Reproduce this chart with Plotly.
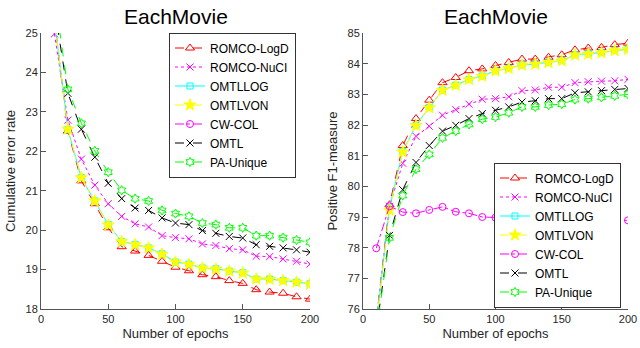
import plotly.graph_objects as go

epochs = [10, 20, 30, 40, 50, 60, 70, 80, 90, 100, 110, 120, 130, 140, 150, 160, 170, 180, 190, 200]

# Left panel: cumulative error rate
err_romco_logd = [25.35, 22.51, 21.25, 20.67, 20.06, 19.58, 19.47, 19.36, 19.21, 19.06, 18.97, 18.87, 18.82, 18.72, 18.65, 18.49, 18.43, 18.40, 18.31, 18.25]
err_romco_nuci = [24.98, 22.79, 21.80, 21.14, 20.67, 20.35, 20.16, 20.08, 19.86, 19.81, 19.78, 19.65, 19.61, 19.53, 19.50, 19.34, 19.33, 19.27, 19.21, 19.14]
err_omtllog = [25.34, 22.55, 21.33, 20.74, 20.14, 19.71, 19.64, 19.55, 19.40, 19.19, 19.14, 19.04, 19.02, 18.96, 18.92, 18.76, 18.76, 18.72, 18.68, 18.64]
err_omtlvon = [25.33, 22.56, 21.33, 20.74, 20.13, 19.71, 19.63, 19.55, 19.39, 19.19, 19.13, 19.04, 19.01, 18.96, 18.91, 18.76, 18.75, 18.72, 18.68, 18.63]
err_cw_col = [29.8, 29.2, 28.9, 28.7, 28.6, 28.5, 28.4, 28.4, 28.3, 28.3, 28.2, 28.2, 28.2, 28.1, 28.1, 28.1, 28.0, 28.0, 28.0, 28.0]
err_omtl = [25.63, 23.47, 22.56, 21.85, 21.19, 20.80, 20.56, 20.50, 20.31, 20.18, 20.14, 19.99, 19.92, 19.84, 19.80, 19.63, 19.59, 19.55, 19.50, 19.44]
err_pa_unique = [25.99, 23.57, 22.71, 22.01, 21.47, 21.01, 20.80, 20.74, 20.50, 20.42, 20.35, 20.18, 20.14, 20.06, 20.06, 19.86, 19.86, 19.81, 19.75, 19.69]

# Right panel: positive F1-measure
f1_romco_logd = [75.6, 79.40, 81.33, 82.21, 82.81, 83.38, 83.55, 83.77, 83.83, 83.94, 84.04, 84.15, 84.15, 84.21, 84.29, 84.45, 84.51, 84.53, 84.62, 84.67]
f1_romco_nuci = [75.6, 79.35, 80.75, 81.63, 81.96, 82.32, 82.50, 82.68, 82.84, 82.86, 82.92, 83.12, 83.14, 83.23, 83.23, 83.38, 83.41, 83.43, 83.44, 83.49]
f1_omtllog = [75.5, 79.30, 81.14, 81.99, 82.57, 83.14, 83.30, 83.49, 83.60, 83.77, 83.85, 83.96, 83.99, 84.04, 84.10, 84.29, 84.32, 84.36, 84.43, 84.47]
f1_omtlvon = [75.5, 79.22, 81.12, 81.98, 82.56, 83.13, 83.29, 83.48, 83.59, 83.76, 83.84, 83.95, 83.98, 84.03, 84.09, 84.28, 84.31, 84.35, 84.42, 84.46]
f1_cw_col = [77.98, 79.35, 79.16, 79.12, 79.23, 79.33, 79.17, 79.12, 79.00, 78.98, 78.97, 78.96, 78.95, 78.94, 78.93, 78.92, 78.91, 78.90, 78.90, 78.89]
f1_omtl = [75.3, 78.40, 79.89, 80.78, 81.33, 81.80, 81.99, 82.21, 82.37, 82.48, 82.59, 82.75, 82.79, 82.86, 82.86, 83.05, 83.08, 83.12, 83.16, 83.19]
f1_pa_unique = [75.2, 78.32, 79.70, 80.56, 81.04, 81.58, 81.80, 82.02, 82.19, 82.26, 82.40, 82.59, 82.59, 82.65, 82.68, 82.83, 82.86, 82.90, 82.95, 83.00]

names = ["ROMCO-LogD", "ROMCO-NuCI", "OMTLLOG", "OMTLVON", "CW-COL", "OMTL", "PA-Unique"]
left_series = [err_romco_logd, err_romco_nuci, err_omtllog, err_omtlvon, err_cw_col, err_omtl, err_pa_unique]
right_series = [f1_romco_logd, f1_romco_nuci, f1_omtllog, f1_omtlvon, f1_cw_col, f1_omtl, f1_pa_unique]

styles = [
    dict(color="#ff0000", dash="dash", symbol="triangle-up-open", size=8),
    dict(color="#ff00ff", dash="dot", symbol="x-thin-open", size=7),
    dict(color="#00ffff", dash="solid", symbol="square-open", size=6),
    dict(color="#ffff00", dash="dashdot", symbol="star", size=9),
    dict(color="#ff00ff", dash="dashdot", symbol="circle-open", size=7),
    dict(color="#000000", dash="dash", symbol="x-thin-open", size=7),
    dict(color="#00ff00", dash="dash", symbol="hexagram-open", size=7),
]

fig = go.Figure()

def add(series, xa, ya, leg):
    for name, ys, st in zip(names, series, styles):
        fig.add_trace(go.Scatter(
            x=epochs, y=ys, name=name, mode="lines+markers",
            xaxis=xa, yaxis=ya, legend=leg,
            line=dict(color=st["color"], dash=st["dash"], width=1),
            marker=dict(symbol=st["symbol"], size=st["size"], color=st["color"],
                        line=dict(color=st["color"], width=1)),
        ))

add(left_series, "x", "y", "legend")
add(right_series, "x2", "y2", "legend2")

font_family = "Liberation Sans, Arial, sans-serif"
axis_common = dict(
    showline=True, linecolor="#555555", linewidth=1, mirror=False,
    ticks="inside", ticklen=5, tickcolor="#555555", showgrid=False, zeroline=False,
    tickfont=dict(size=11, color="#262626", family=font_family),
    automargin=False,
)
ydom = [39 / 348, 315 / 348]

fig.update_layout(
    width=640, height=348,
    margin=dict(l=0, r=0, t=0, b=0),
    paper_bgcolor="white", plot_bgcolor="white",
    hovermode=False,
    font=dict(family=font_family, color="#262626"),
    xaxis=dict(domain=[41 / 640, 310 / 640], range=[0, 200], tickvals=[0, 50, 100, 150, 200],
               title=dict(text="Number of epochs", font=dict(size=13), standoff=4), anchor="y", **axis_common),
    yaxis=dict(domain=ydom, range=[18, 25], dtick=1,
               title=dict(text="Cumulative error rate", font=dict(size=13), standoff=6), anchor="x", **axis_common),
    xaxis2=dict(domain=[363 / 640, 628 / 640], range=[0, 200], tickvals=[0, 50, 100, 150, 200],
                ticklabeloverflow="allow",
                title=dict(text="Number of epochs", font=dict(size=13), standoff=4), anchor="y2", **axis_common),
    yaxis2=dict(domain=ydom, range=[76, 85], dtick=1,
                title=dict(text="Positive F1-measure", font=dict(size=13), standoff=6), anchor="x2", **axis_common),
    legend=dict(x=169 / 640, y=1 - 105 / 348, xanchor="left", yanchor="middle",
                bgcolor="white", bordercolor="#333333", borderwidth=1,
                font=dict(size=12, color="#000000"), itemwidth=30, tracegroupgap=0),
    legend2=dict(x=494 / 640, y=1 - 235 / 348, xanchor="left", yanchor="middle",
                 bgcolor="white", bordercolor="#333333", borderwidth=1,
                 font=dict(size=12, color="#000000"), itemwidth=30, tracegroupgap=0),
    annotations=[
        dict(text="EachMovie", x=(41 + 310) / 2 / 640, y=1 - 17 / 348, xref="paper", yref="paper",
             showarrow=False, font=dict(size=21, color="#000000"), xanchor="center", yanchor="middle"),
        dict(text="EachMovie", x=(363 + 628) / 2 / 640, y=1 - 17 / 348, xref="paper", yref="paper",
             showarrow=False, font=dict(size=21, color="#000000"), xanchor="center", yanchor="middle"),
    ],
)

fig.write_html("out.html", config={"displayModeBar": False},
               post_script="document.body.style.margin='0';")
